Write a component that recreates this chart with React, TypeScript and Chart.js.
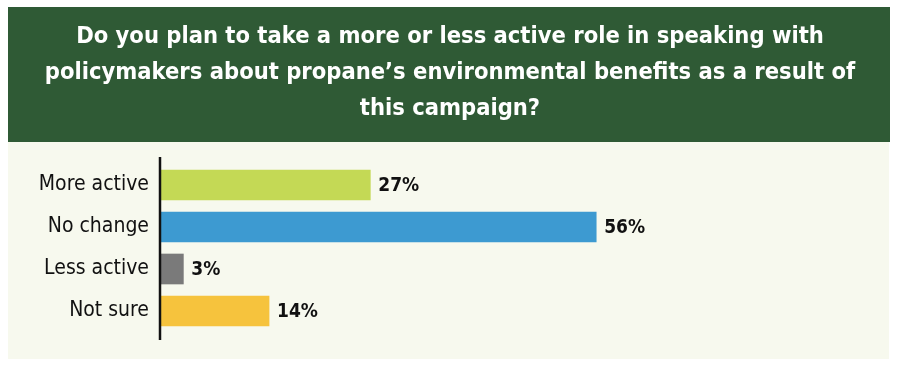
import React, { useEffect, useRef } from "react";
import { Chart, registerables } from "chart.js";

Chart.register(...registerables);

const TITLE_LINES = [
  "Do you plan to take a more or less active role in speaking with",
  "policymakers about propane’s environmental benefits as a result of",
  "this campaign?",
];
const CATEGORIES = ["More active", "No change", "Less active", "Not sure"];
const VALUES = [27, 56, 3, 14];
const VALUE_LABELS = ["27%", "56%", "3%", "14%"];
const BAR_COLORS = ["#C4D955", "#3D9AD1", "#7A7A7A", "#F6C33D"];
const X_MAX = 95;

const FONT = "'DejaVu Sans Condensed', 'Liberation Sans Narrow', sans-serif";

const decor = {
  id: "decor",
  beforeDraw(chart: any) {
    const ctx = chart.ctx;
    ctx.save();
    ctx.fillStyle = "#ffffff";
    ctx.fillRect(0, 0, chart.width, chart.height);
    ctx.fillStyle = "#2F5A35";
    ctx.fillRect(8, 7, 882, 135);
    ctx.fillStyle = "#F7F9EE";
    ctx.fillRect(8, 142, 881, 217);
    ctx.restore();
  },
  afterDatasetsDraw(chart: any) {
    const { ctx, chartArea } = chart;
    ctx.save();
    ctx.strokeStyle = "#111111";
    ctx.lineWidth = 2.5;
    ctx.beginPath();
    ctx.moveTo(chartArea.left, chartArea.top - 7);
    ctx.lineTo(chartArea.left, chartArea.bottom + 8);
    ctx.stroke();
    const meta = chart.getDatasetMeta(0);
    ctx.font = `bold 19px ${FONT}`;
    ctx.fillStyle = "#111111";
    ctx.textBaseline = "middle";
    ctx.textAlign = "left";
    meta.data.forEach((bar: any, i: number) => {
      ctx.fillText(VALUE_LABELS[i], bar.x + 8, bar.y + 1);
    });
    ctx.restore();
  },
};

export default function App() {
  const ref = useRef<HTMLCanvasElement>(null);
  useEffect(() => {
    if (!ref.current) return;
    const chart = new Chart(ref.current, {
      type: "bar",
      data: {
        labels: CATEGORIES,
        datasets: [
          {
            data: VALUES,
            backgroundColor: BAR_COLORS,
            barThickness: 30,
            borderWidth: 0,
          },
        ],
      },
      options: {
        indexAxis: "y",
        animation: false,
        responsive: false,
        maintainAspectRatio: false,
        layout: { padding: { left: 0, right: 0, top: 0, bottom: 37 } },
        plugins: {
          legend: { display: false },
          tooltip: { enabled: false },
          title: {
            display: true,
            text: TITLE_LINES,
            color: "#ffffff",
            font: { family: FONT, size: 23.5, weight: "bold", lineHeight: 36 / 23.5 },
            padding: { top: 19, bottom: 37 },
          },
        },
        scales: {
          x: { display: false, min: 0, max: X_MAX },
          y: {
            grid: { display: false, drawTicks: false },
            border: { display: false },
            ticks: { color: "#111111", font: { family: FONT, size: 21 }, padding: 11 },
            afterFit(scale: any) {
              scale.width = 160;
            },
          },
        },
      },
      plugins: [decor],
    } as any);
    return () => chart.destroy();
  }, []);
  return (
    <div style={{ position: "absolute", left: 0, top: 0, width: 900, height: 369 }}>
      <canvas ref={ref} width={900} height={369} style={{ display: "block" }} />
    </div>
  );
}
